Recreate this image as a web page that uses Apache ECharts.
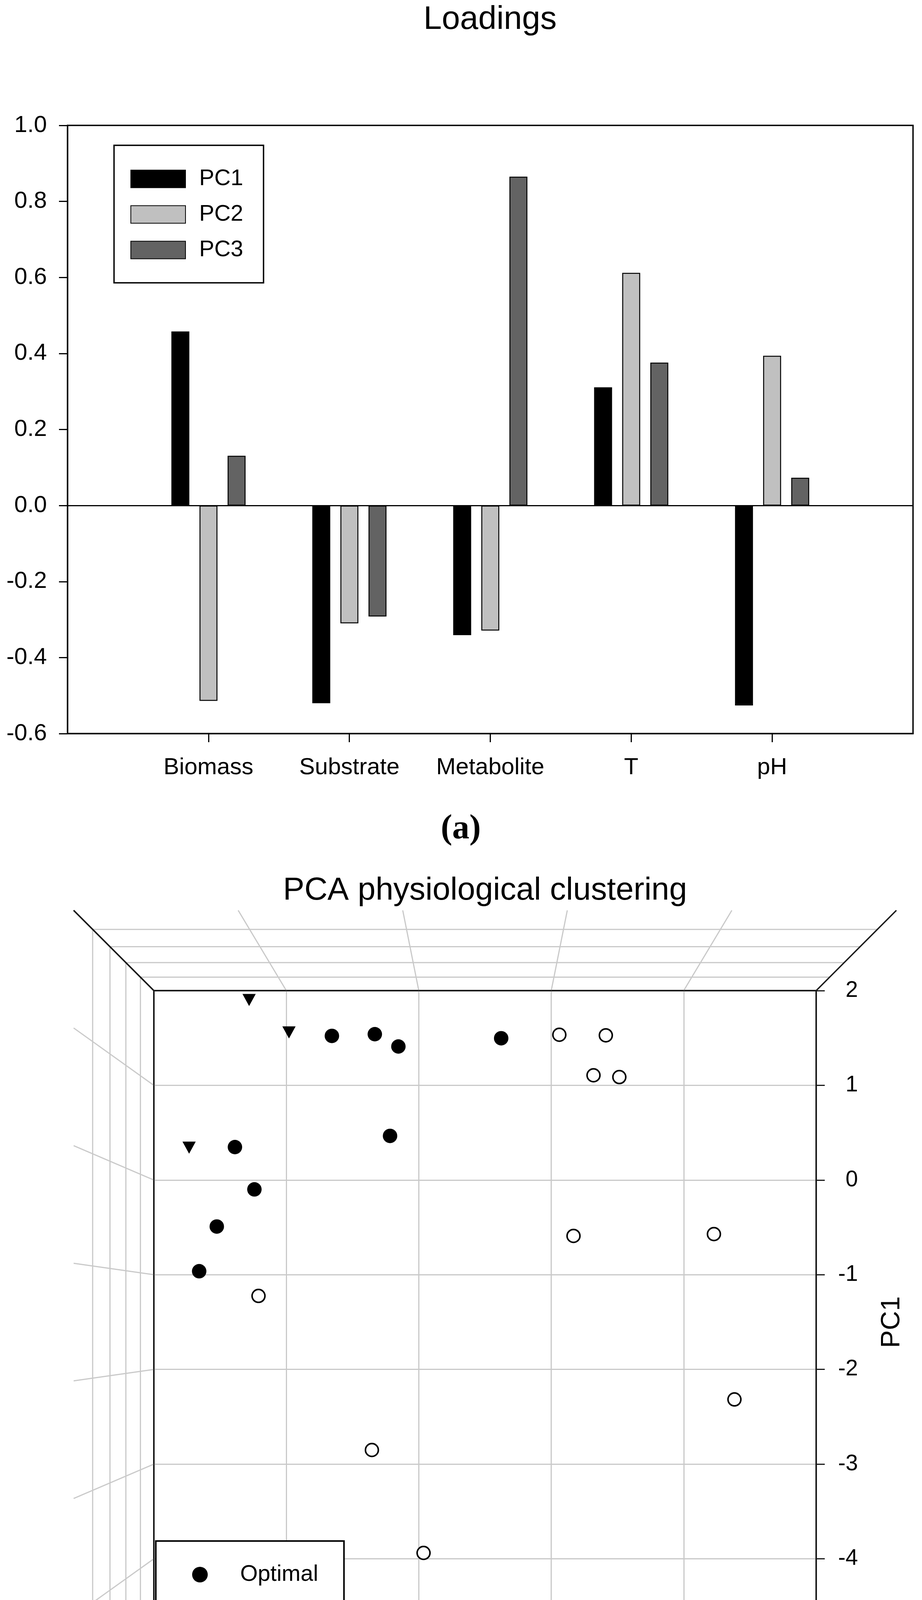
<!DOCTYPE html>
<html>
<head>
<meta charset="utf-8">
<script src="https://cdn.jsdelivr.net/npm/echarts@6/dist/echarts.min.js"></script>
<style>
html, body { margin: 0; padding: 0; background: #fff; }
#main { width: 2361px; height: 4692px; }
</style>
</head>
<body>
<div id="main"></div>
<script>
// (a) loadings - blank categories pad the axis on both sides
var categories = ['', 'Biomass', 'Substrate', 'Metabolite', 'T', 'pH', ''];
var pc1Load = [null, 0.458, -0.520, -0.341, 0.311, -0.526, null];
var pc2Load = [null, -0.514, -0.310, -0.329, 0.612, 0.394, null];
var pc3Load = [null, 0.131, -0.292, 0.865, 0.376, 0.073, null];

// (b) scores, [PC2, PC1] as seen on the back wall
var optimalPts = [
    [0.656, 1.522], [0.332, 1.540], [0.154, 1.410], [-0.622, 1.497],
    [0.217, 0.466], [1.388, 0.348], [1.241, -0.099], [1.525, -0.491],
    [1.658, -0.963]
];
var lowTPts = [
    [-1.061, 1.534], [-1.412, 1.528], [-1.319, 1.106], [-1.514, 1.087],
    [-1.168, -0.590], [-2.228, -0.571], [1.210, -1.224], [-2.383, -2.317],
    [0.354, -2.851], [-0.036, -3.938]
];
var highTPts = [[1.281, 1.901], [0.980, 1.559], [1.734, 0.342]];

var pc2Ticks = [2, 1, 0, -1, -2, -3];
var pc1Ticks = [2, 1, 0, -1, -2, -3, -4, -5];
var pc3Ticks = [-2, -1, 0, 1, 2, 3];

var FONT = '"Liberation Sans", Arial, sans-serif';
var GRID_GRAY = '#c9c9c9';
var EDGE = '#1a1a1a';

var chart = echarts.init(document.getElementById('main'));

var barStyle = function (c) {
    return { color: c, borderColor: '#000', borderWidth: 2.5 };
};

var option = {
    animation: false,
    backgroundColor: '#fff',
    textStyle: { fontFamily: FONT, color: '#000' },
    title: [
        { text: 'Loadings', left: 1255, top: 9, textAlign: 'center', padding: 0,
          textStyle: { fontSize: 84, fontWeight: 'normal', fontFamily: FONT, color: '#000' } },
        { text: '(a)', left: 1180, top: 2079, textAlign: 'center', padding: 0,
          textStyle: { fontSize: 88, fontWeight: 'bold', fontFamily: '"Liberation Serif", "Times New Roman", serif', color: '#000' } },
        { text: 'PCA physiological clustering', left: 1242, top: 2239, textAlign: 'center', padding: 0,
          textStyle: { fontSize: 82, fontWeight: 'normal', fontFamily: FONT, color: '#000' } },
        { text: '(b)', left: 1180, top: 4591, textAlign: 'center', padding: 0,
          textStyle: { fontSize: 88, fontWeight: 'bold', fontFamily: '"Liberation Serif", "Times New Roman", serif', color: '#000' } }
    ],
    legend: [
        {
            data: ['PC1', 'PC2', 'PC3'],
            orient: 'vertical',
            left: 292, top: 372,
            icon: 'rect',
            itemWidth: 140, itemHeight: 45, itemGap: 33,
            padding: [57, 52, 55, 42],
            backgroundColor: '#fff',
            borderColor: '#000', borderWidth: 3.5,
            selectedMode: false,
            textStyle: { fontSize: 58, fontFamily: FONT, color: '#000', lineHeight: 45, padding: [0, 0, 0, 30] }
        },
        {
            data: ['Optimal', 'low T', 'high T'],
            orient: 'vertical',
            left: 399, top: 3945,
            itemWidth: 40, itemHeight: 40, itemGap: 36,
            padding: [57, 66, 55, 92],
            backgroundColor: '#fff',
            borderColor: '#000', borderWidth: 4,
            selectedMode: false,
            textStyle: { fontSize: 58, fontFamily: FONT, color: '#000', lineHeight: 40, padding: [0, 0, 0, 78] }
        }
    ],
    grid: [
        { left: 173, top: 321, width: 2165, height: 1557, show: true,
          borderColor: '#000', borderWidth: 3.5, backgroundColor: 'transparent' },
        { left: 394, top: 2536, width: 1696, height: 1697, show: true,
          borderColor: EDGE, borderWidth: 4, backgroundColor: 'transparent' }
    ],
    xAxis: [
        {
            type: 'category', gridIndex: 0, data: categories, boundaryGap: false,
            axisLine: { onZero: false, lineStyle: { color: '#000', width: 3.5 } },
            axisTick: { length: 22, lineStyle: { color: '#000', width: 3 },
                        interval: function (i, v) { return v !== ''; } },
            axisLabel: { fontSize: 60, color: '#000', margin: 57, interval: 0 },
            splitLine: { show: false }
        },
        {
            type: 'value', gridIndex: 1, min: -3, max: 2, interval: 1, inverse: true,
            name: 'PC2', nameLocation: 'middle', nameGap: 157,
            nameTextStyle: { fontSize: 68, color: '#000' },
            axisLine: { onZero: false, lineStyle: { color: EDGE, width: 4 } },
            axisTick: { length: 25, lineStyle: { color: EDGE, width: 3 } },
            axisLabel: { fontSize: 57, color: '#000', margin: 59, showMaxLabel: false },
            splitLine: { show: true, showMinLine: false, showMaxLine: false,
                         lineStyle: { color: GRID_GRAY, width: 3 } }
        }
    ],
    yAxis: [
        {
            type: 'value', gridIndex: 0, min: -0.6, max: 1.0, interval: 0.2,
            axisLine: { show: true, onZero: false, lineStyle: { color: '#000', width: 3.5 } },
            axisTick: { show: true, length: 22, lineStyle: { color: '#000', width: 3 } },
            axisLabel: { fontSize: 60, color: '#000', margin: 53,
                         formatter: function (v) { return Math.abs(v) < 1e-9 ? '0.0' : v.toFixed(1); } },
            splitLine: { show: false }
        },
        {
            type: 'value', gridIndex: 1, min: -5, max: 2, interval: 1, position: 'right',
            name: 'PC1', nameLocation: 'middle', nameGap: 160, nameRotate: 90,
            nameTextStyle: { fontSize: 68, color: '#000' },
            axisLine: { show: true, onZero: false, lineStyle: { color: EDGE, width: 4 } },
            axisTick: { show: true, length: 22, lineStyle: { color: EDGE, width: 3 } },
            axisLabel: { fontSize: 57, color: '#000', margin: 107, align: 'right' },
            splitLine: { show: true, showMinLine: false, showMaxLine: false,
                         lineStyle: { color: GRID_GRAY, width: 3 } }
        }
    ],
    series: [
        {
            name: 'PC1', type: 'bar', xAxisIndex: 0, yAxisIndex: 0,
            data: pc1Load, barWidth: 46, barGap: '56.5%',
            itemStyle: barStyle('#000000'),
            markLine: {
                silent: true, symbol: ['none', 'none'], label: { show: false },
                lineStyle: { color: '#000', width: 3, type: 'solid' },
                data: [{ yAxis: 0 }]
            }
        },
        { name: 'PC2', type: 'bar', xAxisIndex: 0, yAxisIndex: 0,
          data: pc2Load, barWidth: 46, barGap: '56.5%', itemStyle: barStyle('#c0c0c0') },
        { name: 'PC3', type: 'bar', xAxisIndex: 0, yAxisIndex: 0,
          data: pc3Load, barWidth: 46, barGap: '56.5%', itemStyle: barStyle('#636363') },
        { name: 'Optimal', type: 'scatter', xAxisIndex: 1, yAxisIndex: 1, z: 5,
          data: optimalPts, symbol: 'circle', symbolSize: 37,
          itemStyle: { color: '#000', opacity: 1 } },
        { name: 'low T', type: 'scatter', xAxisIndex: 1, yAxisIndex: 1, z: 5,
          data: lowTPts, symbol: 'circle', symbolSize: 33,
          itemStyle: { color: '#fff', borderColor: '#000', borderWidth: 4, opacity: 1 } },
        { name: 'high T', type: 'scatter', xAxisIndex: 1, yAxisIndex: 1, z: 5,
          data: highTPts, symbol: 'path://M0,0L10,0L5,9Z', symbolSize: [34, 31],
          itemStyle: { color: '#000', opacity: 1 } }
    ]
};

chart.setOption(option);

// perspective walls of the 3D box, built from the back-wall grid
var tl = chart.convertToPixel({ gridIndex: 1 }, [pc2Ticks[0], pc1Ticks[0]]);
var br = chart.convertToPixel({ gridIndex: 1 }, [pc2Ticks[pc2Ticks.length - 1], pc1Ticks[pc1Ticks.length - 1]]);
var x0 = tl[0], y0 = tl[1], x1 = br[0], y1 = br[1];
var cx = (x0 + x1) / 2, cy = (y0 + y1) / 2;
var hw = (x1 - x0) / 2, hh = (y1 - y0) / 2;
var depthK = 0.039;
var zMin = pc3Ticks[0], zMax = pc3Ticks[pc3Ticks.length - 1];
function depthScale(z) { return 1 / (1 - depthK * (z - zMin)); }
var sNear = depthScale(zMax);

var els = [];
function seg(xa, ya, xb, yb, dark) {
    els.push({
        type: 'line', z: dark ? 3 : 1, silent: true,
        shape: { x1: xa, y1: ya, x2: xb, y2: yb },
        style: { stroke: dark ? EDGE : GRID_GRAY, lineWidth: dark ? 3.5 : 3 }
    });
}

// dark back-wall edges on top of the grid lines
seg(x0, y0, x1, y0, true);
seg(x0, y0, x0, y1, true);

pc3Ticks.forEach(function (z, i) {
    var s = depthScale(z);
    if (i > 0 && i < pc3Ticks.length - 1) {
        // ceiling and side wall lines at this depth
        seg(cx - hw * s, cy - hh * s, cx + hw * s, cy - hh * s, false);
        seg(cx - hw * s, cy - hh * s, cx - hw * s, cy + hh * s, false);
    }
    // tick under the PC3 axis and its label
    var px = cx - hw * s, py = cy + hh * s;
    seg(px, py, px, py + 24, true);
    els.push({
        type: 'text', z: 3, silent: true, x: px - 20, y: py + 60,
        style: { text: String(z), font: '55px ' + FONT, fill: '#000',
                 align: 'center', verticalAlign: 'middle' }
    });
});

pc2Ticks.forEach(function (v, i) {
    var px = chart.convertToPixel({ xAxisIndex: 1 }, v);
    var edge = (i === 0 || i === pc2Ticks.length - 1);
    seg(px, y0, cx + (px - cx) * sNear, cy - hh * sNear, edge);
});

pc1Ticks.forEach(function (v, i) {
    var py = chart.convertToPixel({ yAxisIndex: 1 }, v);
    var edge = (i === 0 || i === pc1Ticks.length - 1);
    seg(x0, py, cx - hw * sNear, cy + (py - cy) * sNear, edge);
});

els.push({
    type: 'text', z: 3, silent: true,
    x: cx - hw * sNear - 50, y: cy + hh * sNear - 137, rotation: Math.PI / 4,
    style: { text: 'PC3', font: '66px ' + FONT, fill: '#000',
             align: 'center', verticalAlign: 'middle' }
});

chart.setOption({ graphic: { elements: els } });
</script>
</body>
</html>
